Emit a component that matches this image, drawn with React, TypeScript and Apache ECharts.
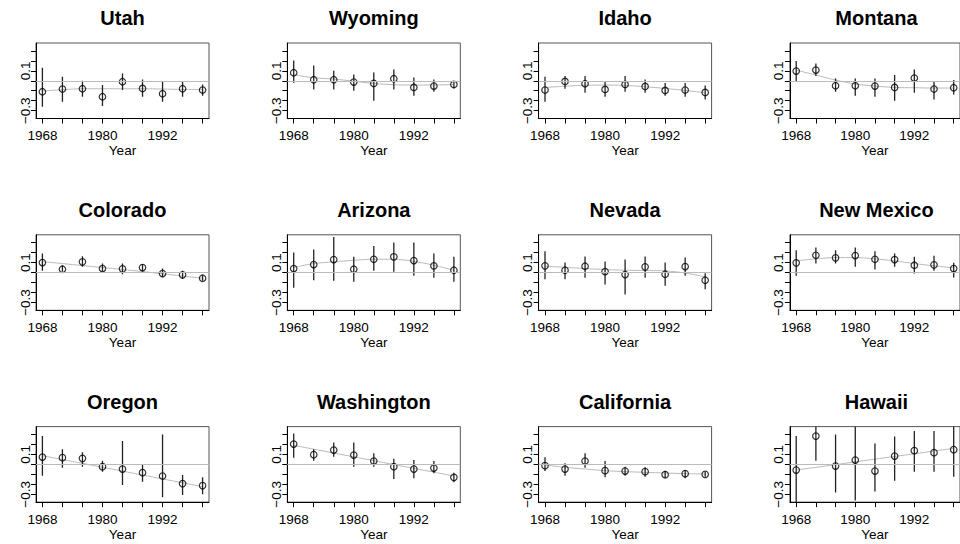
import React, { useEffect, useRef } from 'react';
import * as echarts from 'echarts';

const states = ['Utah', 'Wyoming', 'Idaho', 'Montana', 'Colorado', 'Arizona', 'Nevada', 'New Mexico', 'Oregon', 'Washington', 'California', 'Hawaii'];
const years = [1968, 1972, 1976, 1980, 1984, 1988, 1992, 1996, 2000];
const xLabels = [1968, 1980, 1992];
const yTicks = [-0.3, -0.2, -0.1, 0, 0.1, 0.2, 0.3];
const yLabels = [-0.3, 0.1];

const estimates = [
  [-0.11, -0.083, -0.08, -0.16, -0.01, -0.077, -0.13, -0.08, -0.093],
  [0.08, 0.01, 0.01, -0.013, -0.027, 0.02, -0.067, -0.053, -0.037],
  [-0.093, -0.007, -0.03, -0.087, -0.037, -0.057, -0.097, -0.093, -0.117],
  [0.097, 0.107, -0.05, -0.05, -0.053, -0.067, 0.027, -0.083, -0.07],
  [0.1, 0.033, 0.107, 0.04, 0.037, 0.05, -0.01, -0.023, -0.057],
  [0.04, 0.08, 0.13, 0.033, 0.133, 0.157, 0.12, 0.067, 0.023],
  [0.067, 0.023, 0.063, 0.01, -0.02, 0.057, -0.017, 0.06, -0.077],
  [0.097, 0.173, 0.147, 0.17, 0.133, 0.13, 0.073, 0.077, 0.04],
  [0.073, 0.067, 0.06, -0.023, -0.047, -0.083, -0.117, -0.193, -0.213],
  [0.203, 0.097, 0.143, 0.093, 0.033, -0.023, -0.047, -0.037, -0.13],
  [-0.013, -0.047, 0.033, -0.063, -0.067, -0.073, -0.103, -0.093, -0.1],
  [-0.057, 0.283, -0.017, 0.043, -0.067, 0.083, 0.137, 0.117, 0.147],
];

const lowers = [
  [-0.26, -0.21, -0.16, -0.253, -0.093, -0.16, -0.21, -0.16, -0.15],
  [-0.02, -0.087, -0.087, -0.1, -0.2, -0.087, -0.15, -0.11, -0.077],
  [-0.21, -0.08, -0.12, -0.16, -0.11, -0.12, -0.15, -0.16, -0.187],
  [-0.01, 0.047, -0.11, -0.15, -0.16, -0.2, -0.12, -0.187, -0.137],
  [0.017, 0.007, 0.057, 0.007, -0.017, 0.01, -0.043, -0.063, -0.083],
  [-0.153, -0.077, -0.083, -0.093, 0.017, 0.007, -0.033, -0.053, -0.093],
  [-0.067, -0.067, -0.053, -0.12, -0.22, -0.053, -0.133, -0.033, -0.167],
  [-0.033, 0.09, 0.09, 0.057, 0.03, 0.057, -0.01, 0.017, -0.05],
  [-0.113, -0.033, -0.023, -0.073, -0.207, -0.173, -0.33, -0.307, -0.3],
  [0.067, 0.037, 0.077, -0.023, -0.023, -0.147, -0.14, -0.09, -0.18],
  [-0.067, -0.113, -0.033, -0.13, -0.113, -0.123, -0.14, -0.14, -0.123],
  [-0.42, 0.037, -0.283, -0.363, -0.273, -0.163, -0.073, -0.073, -0.123],
];

const uppers = [
  [0.13, 0.04, 0, -0.043, 0.073, 0.013, -0.013, -0.007, -0.037],
  [0.203, 0.153, 0.1, 0.063, 0.083, 0.113, 0.033, 0.013, -0.003],
  [0.04, 0.047, 0.047, -0.003, 0.047, 0.013, -0.023, -0.023, -0.047],
  [0.197, 0.173, 0.023, 0.023, 0.023, 0.057, 0.113, -0.003, 0.007],
  [0.19, 0.073, 0.163, 0.09, 0.09, 0.083, 0.04, 0.017, -0.027],
  [0.2, 0.23, 0.357, 0.157, 0.267, 0.3, 0.3, 0.19, 0.157],
  [0.213, 0.1, 0.16, 0.11, 0.13, 0.16, 0.1, 0.15, -0.007],
  [0.223, 0.25, 0.223, 0.25, 0.213, 0.19, 0.157, 0.167, 0.097],
  [0.283, 0.15, 0.12, 0.037, 0.233, -0.007, 0.3, -0.107, -0.13],
  [0.31, 0.15, 0.22, 0.22, 0.11, 0.057, 0.043, 0.033, -0.083],
  [0.07, 0.01, 0.11, 0.033, -0.023, -0.03, -0.063, -0.057, -0.073],
  [0.283, 0.42, 0.3, 0.42, 0.21, 0.28, 0.333, 0.333, 0.42],
];

const smooths = [
  [-0.103, -0.09, -0.08, -0.08, -0.08, -0.08, -0.083, -0.087, -0.087],
  [0.06, 0.03, 0.017, -0.005, -0.027, -0.04, -0.043, -0.043, -0.037],
  [-0.067, -0.055, -0.045, -0.043, -0.047, -0.06, -0.077, -0.097, -0.12],
  [0.107, 0.057, 0.007, -0.033, -0.053, -0.067, -0.07, -0.073, -0.073],
  [0.11, 0.09, 0.07, 0.05, 0.03, 0.01, -0.012, -0.035, -0.057],
  [0.05, 0.09, 0.107, 0.123, 0.133, 0.133, 0.113, 0.073, 0.023],
  [0.063, 0.052, 0.04, 0.03, 0.023, 0.02, 0.017, -0.005, -0.043],
  [0.117, 0.137, 0.15, 0.15, 0.137, 0.117, 0.09, 0.067, 0.047],
  [0.087, 0.048, 0.01, -0.029, -0.068, -0.107, -0.146, -0.185, -0.223],
  [0.19, 0.152, 0.113, 0.075, 0.037, -0.002, -0.04, -0.078, -0.117],
  [-0.007, -0.03, -0.047, -0.063, -0.073, -0.08, -0.087, -0.093, -0.097],
  [-0.057, -0.03, -0.003, 0.025, 0.052, 0.079, 0.106, 0.133, 0.16],
];

const XMIN = 1966.72;
const XMAX = 2001.28;
const YMIN = -0.378;
const YMAX = 0.378;
const FONT = 'Liberation Sans, Arial, Helvetica, sans-serif';

export default function App() {
  const ref = useRef<HTMLDivElement>(null);
  useEffect(() => {
    const chart = echarts.init(ref.current!, null, { renderer: 'svg' });
    const grids: any[] = [];
    const xAxes: any[] = [];
    const yAxes: any[] = [];
    const titles: any[] = [];
    const series: any[] = [];
    const W = 173;
    const H = 75.5;
    states.forEach((name, i) => {
      const row = Math.floor(i / 4);
      const col = i % 4;
      const left = 36 + col * 251.3;
      const top = 43 + row * 191.8;
      grids.push({ left, top, width: W, height: H, show: true, borderColor: '#555', borderWidth: 1, backgroundColor: 'transparent' });
      titles.push({
        text: name, left: left + W / 2, top: top - 35, textAlign: 'center', padding: 0,
        textStyle: { fontSize: 20, fontWeight: 'bold', fontFamily: FONT, color: '#000' },
      });
      xAxes.push({
        gridIndex: i, type: 'value', min: XMIN, max: XMAX,
        splitLine: { show: false },
        axisLine: { show: true, onZero: false, lineStyle: { color: '#000', width: 1 } },
        axisTick: { show: true, length: 5, customValues: years, lineStyle: { color: '#000' } },
        axisLabel: { customValues: xLabels, margin: 10, fontSize: 13.5, color: '#000', fontFamily: FONT, formatter: (v: number) => String(Math.round(v)) },
        name: 'Year', nameLocation: 'middle', nameGap: 23,
        nameTextStyle: { fontSize: 13.5, color: '#000', fontFamily: FONT },
      });
      yAxes.push({
        gridIndex: i, type: 'value', min: YMIN, max: YMAX,
        splitLine: { show: false },
        axisLine: { show: true, onZero: false, lineStyle: { color: '#000', width: 1 } },
        axisTick: { show: true, length: 5, customValues: yTicks, lineStyle: { color: '#000' } },
        axisLabel: {
          customValues: yLabels, rotate: 90, margin: 4, fontSize: 13.5, color: '#000', fontFamily: FONT,
          formatter: (v: number) => (v < 0 ? '\u2212' : '') + Math.abs(v).toFixed(1),
        },
      });
      series.push({
        type: 'line', xAxisIndex: i, yAxisIndex: i, symbol: 'none', smooth: 0.3, silent: true,
        data: years.map((y, j) => [y, smooths[i][j]]),
        lineStyle: { color: '#bbb', width: 1 },
        markLine: {
          silent: true, symbol: 'none', label: { show: false },
          lineStyle: { color: '#bbb', width: 1, type: 'solid' },
          data: [{ yAxis: 0 }],
        },
        z: 1,
      });
      series.push({
        type: 'custom', xAxisIndex: i, yAxisIndex: i, clip: true, silent: true,
        data: years.map((y, j) => [y, lowers[i][j], uppers[i][j]]),
        encode: { x: 0, y: [1, 2] },
        renderItem: (params: any, api: any) => {
          const x = api.value(0);
          const lo = Math.max(YMIN, api.value(1));
          const hi = Math.min(YMAX, api.value(2));
          const p1 = api.coord([x, lo]);
          const p2 = api.coord([x, hi]);
          return {
            type: 'line',
            shape: { x1: p1[0], y1: p1[1], x2: p2[0], y2: p2[1] },
            style: { stroke: '#222', lineWidth: 1.3 },
          };
        },
        z: 2,
      });
      series.push({
        type: 'scatter', xAxisIndex: i, yAxisIndex: i, symbol: 'circle', symbolSize: 6.5, silent: true,
        data: years.map((y, j) => [y, estimates[i][j]]),
        itemStyle: { color: 'rgba(255,255,255,0)', borderColor: '#000', borderWidth: 1.2 },
        z: 3,
      });
    });
    chart.setOption({
      animation: false,
      backgroundColor: '#fff',
      title: titles,
      grid: grids,
      xAxis: xAxes,
      yAxis: yAxes,
      series,
    });
    return () => chart.dispose();
  }, []);
  return <div ref={ref} style={{ position: 'absolute', left: 0, top: 0, width: 960, height: 544 }} />;
}
